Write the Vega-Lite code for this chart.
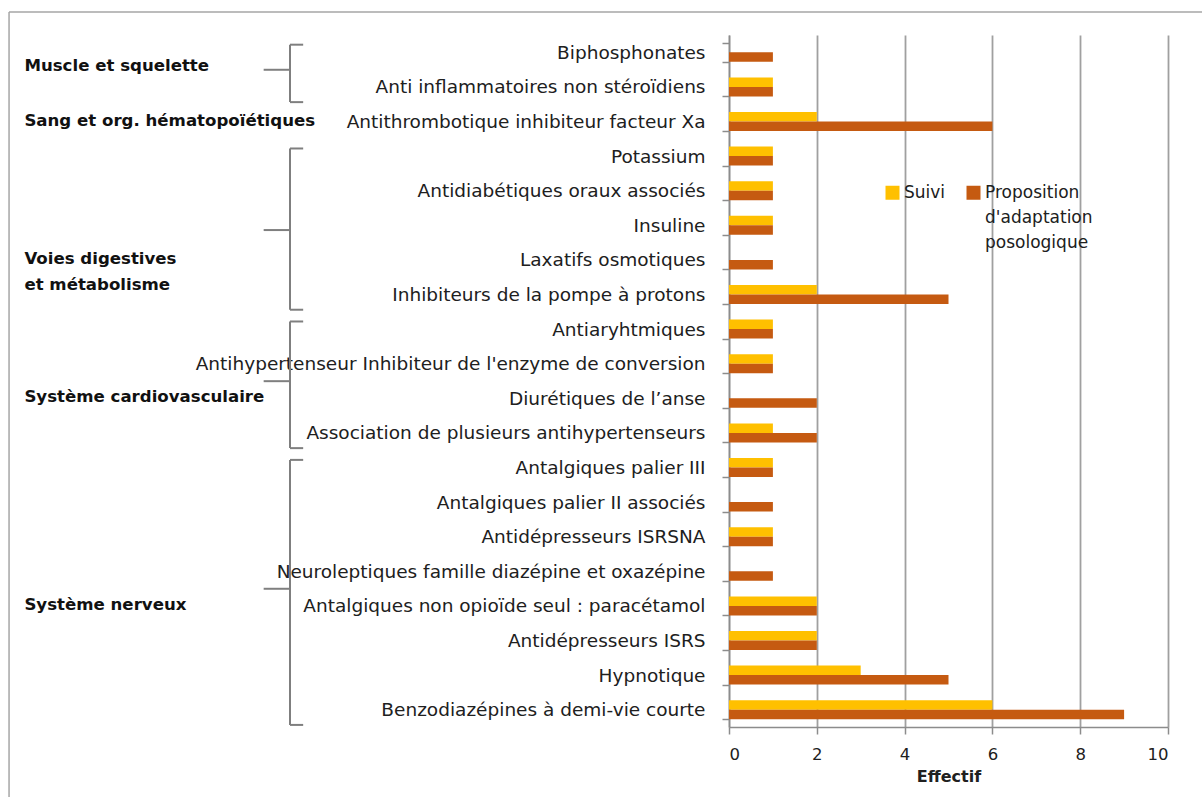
{
  "$schema": "https://vega.github.io/schema/vega-lite/v6.json",
  "autosize": {"type": "none"},
  "padding": {"left": 729, "top": 35, "right": 34, "bottom": 70},
  "width": 439,
  "height": 692,
  "background": "white",
  "config": {
    "font": "DejaVu Sans",
    "view": {"stroke": null}
  },
  "datasets": {
    "bars": [
      {"medicament": "Biphosphonates", "serie": "Suivi", "effectif": 0},
      {"medicament": "Biphosphonates", "serie": "Proposition d'adaptation posologique", "effectif": 1},
      {"medicament": "Anti inflammatoires  non stéroïdiens", "serie": "Suivi", "effectif": 1},
      {"medicament": "Anti inflammatoires  non stéroïdiens", "serie": "Proposition d'adaptation posologique", "effectif": 1},
      {"medicament": "Antithrombotique inhibiteur facteur Xa", "serie": "Suivi", "effectif": 2},
      {"medicament": "Antithrombotique inhibiteur facteur Xa", "serie": "Proposition d'adaptation posologique", "effectif": 6},
      {"medicament": "Potassium", "serie": "Suivi", "effectif": 1},
      {"medicament": "Potassium", "serie": "Proposition d'adaptation posologique", "effectif": 1},
      {"medicament": "Antidiabétiques oraux associés", "serie": "Suivi", "effectif": 1},
      {"medicament": "Antidiabétiques oraux associés", "serie": "Proposition d'adaptation posologique", "effectif": 1},
      {"medicament": "Insuline", "serie": "Suivi", "effectif": 1},
      {"medicament": "Insuline", "serie": "Proposition d'adaptation posologique", "effectif": 1},
      {"medicament": "Laxatifs osmotiques", "serie": "Suivi", "effectif": 0},
      {"medicament": "Laxatifs osmotiques", "serie": "Proposition d'adaptation posologique", "effectif": 1},
      {"medicament": "Inhibiteurs de la pompe à protons", "serie": "Suivi", "effectif": 2},
      {"medicament": "Inhibiteurs de la pompe à protons", "serie": "Proposition d'adaptation posologique", "effectif": 5},
      {"medicament": "Antiaryhtmiques", "serie": "Suivi", "effectif": 1},
      {"medicament": "Antiaryhtmiques", "serie": "Proposition d'adaptation posologique", "effectif": 1},
      {"medicament": "Antihypertenseur Inhibiteur de l'enzyme de conversion", "serie": "Suivi", "effectif": 1},
      {"medicament": "Antihypertenseur Inhibiteur de l'enzyme de conversion", "serie": "Proposition d'adaptation posologique", "effectif": 1},
      {"medicament": "Diurétiques de l’anse", "serie": "Suivi", "effectif": 0},
      {"medicament": "Diurétiques de l’anse", "serie": "Proposition d'adaptation posologique", "effectif": 2},
      {"medicament": "Association de plusieurs antihypertenseurs", "serie": "Suivi", "effectif": 1},
      {"medicament": "Association de plusieurs antihypertenseurs", "serie": "Proposition d'adaptation posologique", "effectif": 2},
      {"medicament": "Antalgiques palier III", "serie": "Suivi", "effectif": 1},
      {"medicament": "Antalgiques palier III", "serie": "Proposition d'adaptation posologique", "effectif": 1},
      {"medicament": "Antalgiques palier II associés", "serie": "Suivi", "effectif": 0},
      {"medicament": "Antalgiques palier II associés", "serie": "Proposition d'adaptation posologique", "effectif": 1},
      {"medicament": "Antidépresseurs ISRSNA", "serie": "Suivi", "effectif": 1},
      {"medicament": "Antidépresseurs ISRSNA", "serie": "Proposition d'adaptation posologique", "effectif": 1},
      {"medicament": "Neuroleptiques famille diazépine et oxazépine", "serie": "Suivi", "effectif": 0},
      {"medicament": "Neuroleptiques famille diazépine et oxazépine", "serie": "Proposition d'adaptation posologique", "effectif": 1},
      {"medicament": "Antalgiques non opioïde seul : paracétamol", "serie": "Suivi", "effectif": 2},
      {"medicament": "Antalgiques non opioïde seul : paracétamol", "serie": "Proposition d'adaptation posologique", "effectif": 2},
      {"medicament": "Antidépresseurs ISRS", "serie": "Suivi", "effectif": 2},
      {"medicament": "Antidépresseurs ISRS", "serie": "Proposition d'adaptation posologique", "effectif": 2},
      {"medicament": "Hypnotique", "serie": "Suivi", "effectif": 3},
      {"medicament": "Hypnotique", "serie": "Proposition d'adaptation posologique", "effectif": 5},
      {"medicament": "Benzodiazépines à demi-vie courte", "serie": "Suivi", "effectif": 6},
      {"medicament": "Benzodiazépines à demi-vie courte", "serie": "Proposition d'adaptation posologique", "effectif": 9}
    ],
    "brackets": [
      {"groupe": "Muscle et squelette", "premier": "Biphosphonates", "dernier": "Anti inflammatoires  non stéroïdiens", "milieuBord": "Anti inflammatoires  non stéroïdiens"},
      {"groupe": "Voies digestives et métabolisme", "premier": "Potassium", "dernier": "Inhibiteurs de la pompe à protons", "milieuCentre": "Insuline"},
      {"groupe": "Système cardiovasculaire", "premier": "Antiaryhtmiques", "dernier": "Association de plusieurs antihypertenseurs", "milieuBord": "Diurétiques de l’anse"},
      {"groupe": "Système nerveux", "premier": "Antalgiques palier III", "dernier": "Benzodiazépines à demi-vie courte", "milieuBord": "Antalgiques non opioïde seul : paracétamol"}
    ],
    "groupes": [
      {"groupe": "Muscle et squelette", "ancreBord": "Anti inflammatoires  non stéroïdiens"},
      {"groupe": "Sang et org. hématopoïétiques", "ancreCentre": "Antithrombotique inhibiteur facteur Xa"},
      {"groupe": "Voies digestives\net métabolisme", "ancreCentre": "Laxatifs osmotiques"},
      {"groupe": "Système cardiovasculaire", "ancreCentre": "Diurétiques de l’anse"},
      {"groupe": "Système nerveux", "ancreCentre": "Antalgiques non opioïde seul : paracétamol"}
    ],
    "cadre": [
      {"premier": "Biphosphonates", "dernier": "Benzodiazépines à demi-vie courte"}
    ]
  },
  "layer": [
    {
      "data": {"name": "bars"},
      "mark": {"type": "bar"},
      "encoding": {
        "y": {
          "field": "medicament",
          "type": "nominal",
          "title": null,
          "scale": {
            "domain": ["Biphosphonates", "Anti inflammatoires  non stéroïdiens", "Antithrombotique inhibiteur facteur Xa", "Potassium", "Antidiabétiques oraux associés", "Insuline", "Laxatifs osmotiques", "Inhibiteurs de la pompe à protons", "Antiaryhtmiques", "Antihypertenseur Inhibiteur de l'enzyme de conversion", "Diurétiques de l’anse", "Association de plusieurs antihypertenseurs", "Antalgiques palier III", "Antalgiques palier II associés", "Antidépresseurs ISRSNA", "Neuroleptiques famille diazépine et oxazépine", "Antalgiques non opioïde seul : paracétamol", "Antidépresseurs ISRS", "Hypnotique", "Benzodiazépines à demi-vie courte"],
            "paddingInner": 0.45,
            "paddingOuter": 0.225
          },
          "axis": {
            "domainColor": "#8c8c8c",
            "domainWidth": 1.5,
            "tickColor": "#8c8c8c",
            "tickWidth": 1.5,
            "tickSize": 7,
            "tickBand": "extent",
            "labelFont": "DejaVu Sans",
            "labelFontSize": 18.5,
            "labelColor": "#202020",
            "labelPadding": 17,
            "labelLimit": 700,
            "grid": false
          }
        },
        "yOffset": {"field": "serie", "type": "nominal", "scale": {"domain": ["Suivi", "Proposition d'adaptation posologique"]}},
        "x": {
          "field": "effectif",
          "type": "quantitative",
          "scale": {"domain": [0, 10]},
          "axis": {
            "title": "Effectif",
            "titleFont": "DejaVu Sans",
            "titleFontSize": 16,
            "titleFontWeight": "bold",
            "titleColor": "#202020",
            "titlePadding": 6,
            "values": [0, 2, 4, 6, 8, 10],
            "labelFont": "DejaVu Sans",
            "labelFontSize": 16.5,
            "labelColor": "#202020",
            "labelPadding": 12,
            "domainColor": "#8c8c8c",
            "domainWidth": 1.5,
            "tickColor": "#8c8c8c",
            "tickWidth": 1.5,
            "tickSize": 7,
            "grid": true,
            "gridColor": "#a0a0a0",
            "gridWidth": 1.8
          }
        },
        "color": {
          "field": "serie",
          "type": "nominal",
          "scale": {"domain": ["Suivi", "Proposition d'adaptation posologique"], "range": ["#FFC000", "#C55A11"]},
          "legend": {
            "title": null,
            "orient": "none",
            "legendX": 155,
            "legendY": 149,
            "direction": "horizontal",
            "symbolType": "square",
            "symbolSize": 196,
            "symbolStrokeWidth": 0,
            "labelFont": "DejaVu Sans",
            "labelFontSize": 17,
            "labelColor": "#202020",
            "labelOffset": 3,
            "columnPadding": 19,
            "labelBaseline": "top",
            "labelLimit": 300,
            "labelExpr": "datum.value === 'Suivi' ? ['Suivi', ' ', ' '] : split(datum.label, ' ')",
            "encoding": {
              "labels": {
                "dy": {"value": -8},
                "lineHeight": {"value": 25}
              }
            }
          }
        }
      }
    },
    {
      "data": {"name": "cadre"},
      "mark": {"type": "rule", "color": "#a6a6a6", "strokeWidth": 1.5},
      "encoding": {
        "x": {"datum": -16.4, "type": "quantitative"},
        "y": {"field": "premier", "type": "nominal", "title": null, "bandPosition": -1.62},
        "y2": {"field": "dernier", "bandPosition": 5.5}
      }
    },
    {
      "data": {"name": "cadre"},
      "mark": {"type": "rule", "color": "#a6a6a6", "strokeWidth": 1.5},
      "encoding": {
        "x": {"datum": -16.4, "type": "quantitative"},
        "x2": {"datum": 10.9},
        "y": {"field": "premier", "type": "nominal", "title": null, "bandPosition": -1.62}
      }
    },
    {
      "data": {"name": "brackets"},
      "mark": {"type": "rule", "color": "#7f7f7f", "strokeWidth": 2},
      "encoding": {
        "x": {"datum": -10, "type": "quantitative"},
        "y": {"field": "premier", "type": "nominal", "title": null, "bandPosition": 0.1},
        "y2": {"field": "dernier", "bandPosition": 1.3}
      }
    },
    {
      "data": {"name": "brackets"},
      "mark": {"type": "rule", "color": "#7f7f7f", "strokeWidth": 2},
      "encoding": {
        "x": {"datum": -10, "type": "quantitative"},
        "x2": {"datum": -9.7},
        "y": {"field": "premier", "type": "nominal", "title": null, "bandPosition": 0.1}
      }
    },
    {
      "data": {"name": "brackets"},
      "mark": {"type": "rule", "color": "#7f7f7f", "strokeWidth": 2},
      "encoding": {
        "x": {"datum": -10, "type": "quantitative"},
        "x2": {"datum": -9.7},
        "y": {"field": "dernier", "type": "nominal", "title": null, "bandPosition": 1.3}
      }
    },
    {
      "data": {"name": "brackets"},
      "transform": [{"filter": "isValid(datum.milieuBord)"}],
      "mark": {"type": "rule", "color": "#7f7f7f", "strokeWidth": 2},
      "encoding": {
        "x": {"datum": -10, "type": "quantitative"},
        "x2": {"datum": -10.6},
        "y": {"field": "milieuBord", "type": "nominal", "title": null, "bandPosition": -0.4}
      }
    },
    {
      "data": {"name": "brackets"},
      "transform": [{"filter": "isValid(datum.milieuCentre)"}],
      "mark": {"type": "rule", "color": "#7f7f7f", "strokeWidth": 2},
      "encoding": {
        "x": {"datum": -10, "type": "quantitative"},
        "x2": {"datum": -10.6},
        "y": {"field": "milieuCentre", "type": "nominal", "title": null, "bandPosition": 0.75}
      }
    },
    {
      "data": {"name": "groupes"},
      "transform": [{"filter": "isValid(datum.ancreBord)"}],
      "mark": {"type": "text", "align": "left", "baseline": "middle", "font": "DejaVu Sans", "fontSize": 16.6, "fontWeight": "bold", "color": "#111111", "dy": -4},
      "encoding": {
        "x": {"datum": -16.05, "type": "quantitative"},
        "y": {"field": "ancreBord", "type": "nominal", "title": null, "bandPosition": -0.4},
        "text": {"field": "groupe", "type": "nominal"}
      }
    },
    {
      "data": {"name": "groupes"},
      "transform": [{"filter": "isValid(datum.ancreCentre)"}],
      "mark": {"type": "text", "align": "left", "baseline": "middle", "font": "DejaVu Sans", "fontSize": 16.6, "fontWeight": "bold", "color": "#111111", "lineBreak": "\n", "lineHeight": 26, "dy": -1},
      "encoding": {
        "x": {"datum": -16.05, "type": "quantitative"},
        "y": {"field": "ancreCentre", "type": "nominal", "title": null, "bandPosition": 0.5},
        "text": {"field": "groupe", "type": "nominal"}
      }
    }
  ]
}
